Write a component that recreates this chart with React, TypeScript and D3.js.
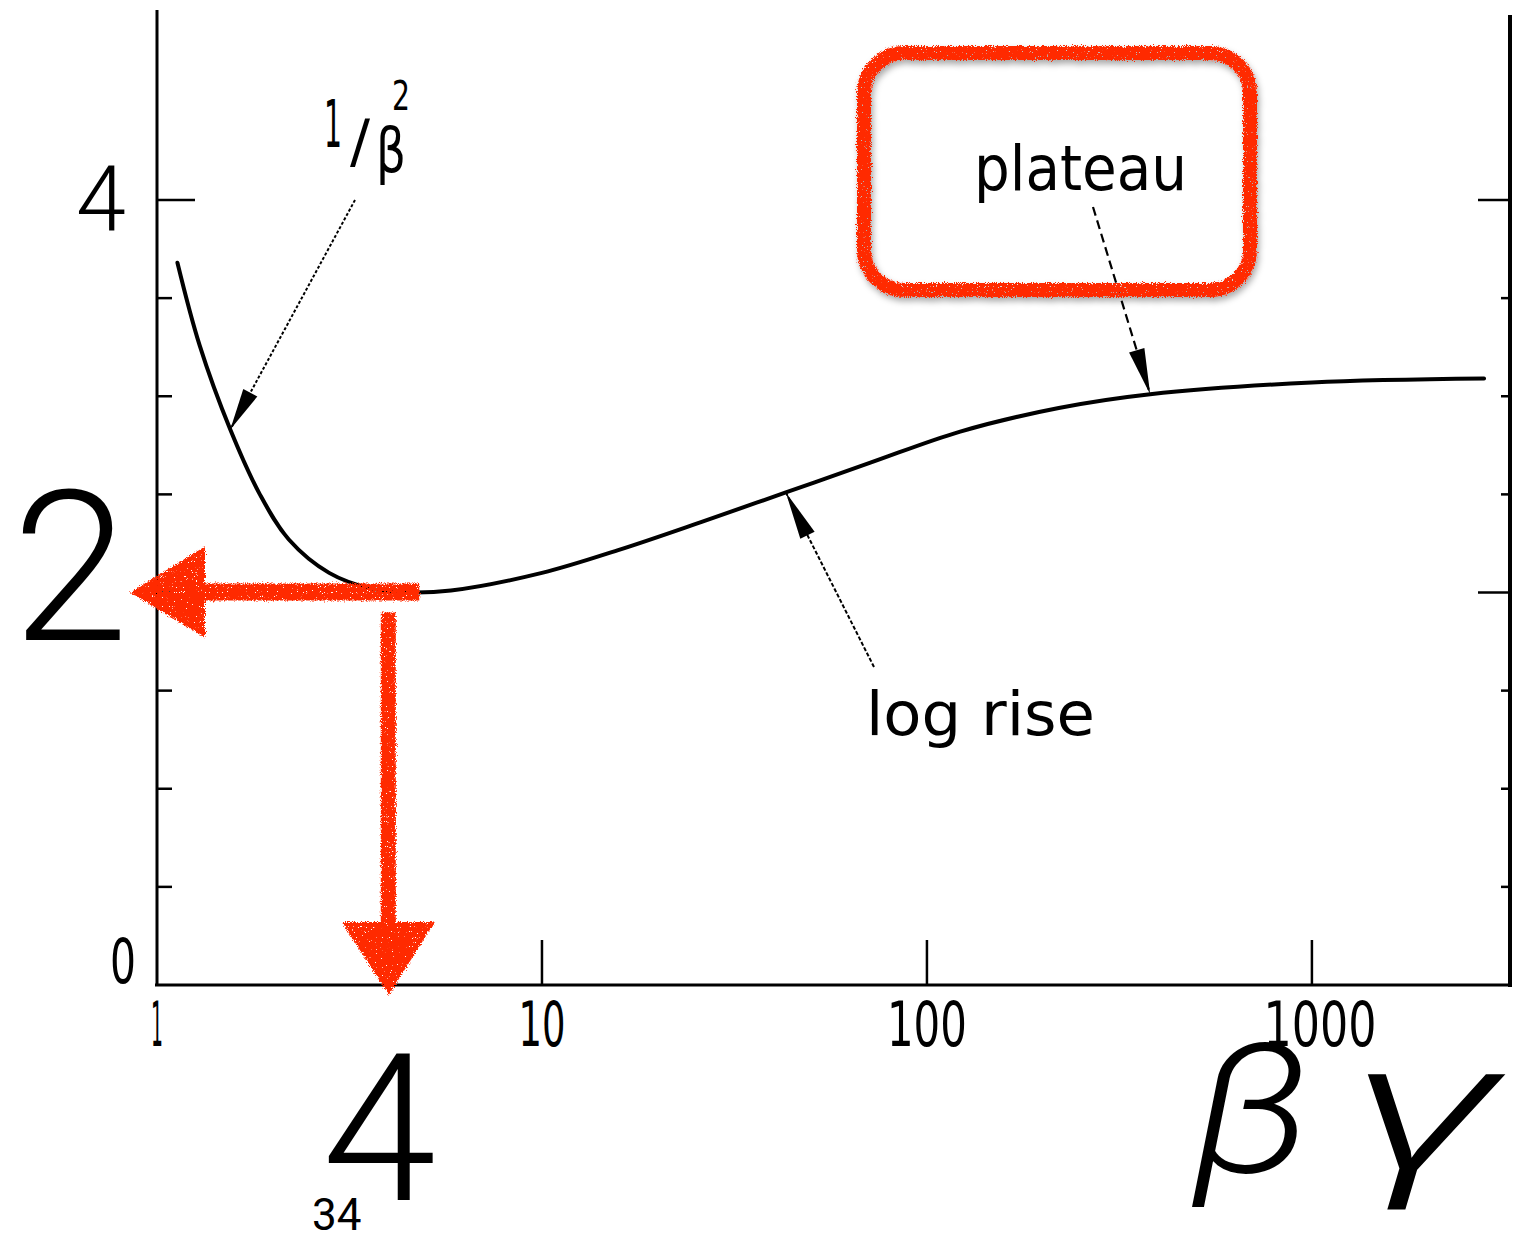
import React from "react";
import * as d3 from "d3";

// Mean energy loss curve versus beta*gamma (log scale)
const betaGamma = [1.13, 1.29, 1.55, 1.85, 2.2, 2.8, 3.6, 4.5, 5.8, 10, 16, 26, 43, 71, 122, 220, 380, 1000, 2800];
const dEdx = [3.68, 3.26, 2.83, 2.5, 2.27, 2.1, 2.02, 2.0, 2.01, 2.1, 2.22, 2.36, 2.51, 2.66, 2.82, 2.94, 3.01, 3.07, 3.09];

const xTicks = [10, 100, 1000];
const xTickLabels = ["1", "10", "100", "1000"];
const xTickLabelValues = [1, 10, 100, 1000];
const yTicks = [0.5, 1, 1.5, 2, 2.5, 3, 3.5, 4];

// Minimum ionisation point highlighted in red
const minBetaGamma = 4;
const minValue = 2;
const minEndBetaGamma = 4.8;

// Annotation anchors on the curve
const invBetaSqAt = 1.55;
const logRiseAt = 43;
const plateauAt = 380;

const W = 1538;
const H = 1236;
const RED = "#ff2a00";
const SCAN_FONT = "'DejaVu Sans', 'Liberation Sans', sans-serif";
const BIG_FONT = "Roboto, 'Liberation Sans', 'Noto Sans', sans-serif";

function head(tail: [number, number], tip: [number, number], len: number, hw: number) {
  const dx = tip[0] - tail[0];
  const dy = tip[1] - tail[1];
  const L = Math.hypot(dx, dy);
  const ux = dx / L, uy = dy / L;
  const bx = tip[0] - ux * len, by = tip[1] - uy * len;
  const px = -uy * hw, py = ux * hw;
  return `${tip[0]},${tip[1]} ${bx + px},${by + py} ${bx - px},${by - py}`;
}

function Note({ x, y, size, len, children }: any) {
  return (
    <text x={x} y={y} fontFamily={SCAN_FONT} fontSize={size} textLength={len} lengthAdjust="spacingAndGlyphs" fill="#000">
      {children}
    </text>
  );
}

export default function App() {
  const x = d3.scaleLog().domain([1, 3270]).range([157, 1510]);
  const y = d3.scaleLinear().domain([0, 4]).range([985, 200]);

  const line = d3
    .line<number>()
    .x((_, i) => x(betaGamma[i]))
    .y((d) => y(d))
    .curve(d3.curveCatmullRom.alpha(0.5));

  const valAt = (bg: number) => {
    const i = d3.bisectLeft(betaGamma, bg);
    const i0 = Math.max(0, i - 1), i1 = Math.min(betaGamma.length - 1, i);
    if (i0 === i1) return dEdx[i0];
    const t = (Math.log(bg) - Math.log(betaGamma[i0])) / (Math.log(betaGamma[i1]) - Math.log(betaGamma[i0]));
    return dEdx[i0] + t * (dEdx[i1] - dEdx[i0]);
  };

  const tipInv: [number, number] = [x(invBetaSqAt), y(valAt(invBetaSqAt))];
  const tailInv: [number, number] = [355, 200];
  const tipLog: [number, number] = [x(logRiseAt), y(valAt(logRiseAt))];
  const tailLog: [number, number] = [874, 667];
  const tipPl: [number, number] = [x(plateauAt), y(valAt(plateauAt))];
  const tailPl: [number, number] = [1093, 207];

  const mx = x(minBetaGamma);
  const my = y(minValue);
  const mEnd = x(minEndBetaGamma);
  const x0 = x(1);
  const yBase = y(0);

  const labelWidths: Record<string, number> = { "1": 12, "10": 47, "100": 80, "1000": 113 };

  return (
    <svg width={W} height={H} style={{ position: "absolute", left: 0, top: 0, background: "#fff" }}>
      <defs>
        <filter id="chalk" x="-10%" y="-10%" width="120%" height="120%">
          <feTurbulence type="fractalNoise" baseFrequency="0.9" numOctaves="2" seed="4" result="noise" />
          <feDisplacementMap in="SourceGraphic" in2="noise" scale="6" xChannelSelector="R" yChannelSelector="G" result="disp" />
          <feTurbulence type="fractalNoise" baseFrequency="1.2" numOctaves="1" seed="11" result="n2" />
          <feColorMatrix in="n2" type="matrix" values="0 0 0 0 0  0 0 0 0 0  0 0 0 0 0  25 0 0 0 -6.8" result="mask" />
          <feComposite in="disp" in2="mask" operator="in" />
        </filter>
        <filter id="shadow" x="-10%" y="-10%" width="120%" height="125%">
          <feDropShadow dx="2" dy="4" stdDeviation="3" floodColor="#000" floodOpacity="0.35" />
        </filter>
      </defs>

      {/* frame */}
      <line x1={x0} x2={x0} y1={10} y2={yBase} stroke="#000" strokeWidth={3} />
      <line x1={x0 - 2} x2={1512} y1={yBase} y2={yBase} stroke="#000" strokeWidth={3} />
      <line x1={1510} x2={1510} y1={15} y2={yBase + 2} stroke="#000" strokeWidth={4} />

      {/* left ticks */}
      {yTicks.map((v) => (
        <line key={"l" + v} x1={x0} x2={x0 + (v === 4 ? 38 : 15)} y1={y(v)} y2={y(v)} stroke="#000" strokeWidth={2.5} />
      ))}
      {/* right ticks */}
      {yTicks.map((v) => (
        <line key={"r" + v} x1={1508} x2={1508 - (v === 4 || v === 2 ? 30 : 7)} y1={y(v)} y2={y(v)} stroke="#000" strokeWidth={2.5} />
      ))}
      {/* bottom ticks */}
      {xTicks.map((v) => (
        <line key={"b" + v} x1={x(v)} x2={x(v)} y1={yBase} y2={yBase - 45} stroke="#000" strokeWidth={2.5} />
      ))}

      {/* tick labels */}
      {xTickLabelValues.map((v, i) => {
        const lab = xTickLabels[i];
        const w = labelWidths[lab];
        return (
          <Note key={"tl" + v} x={x(v) - w / 2 + (v === 1000 ? 8 : 0)} y={1046} size={62} len={w}>
            {lab}
          </Note>
        );
      })}
      <Note x={110} y={983} size={62} len={26}>0</Note>

      {/* curve */}
      <path d={line(dEdx) || ""} fill="none" stroke="#000" strokeWidth={4} strokeLinejoin="round" strokeLinecap="round" />

      {/* 1/beta^2 annotation */}
      <Note x={324} y={147} size={66} len={18}>1</Note>
      <Note x={350} y={162} size={58} len={20}>/</Note>
      <Note x={376} y={172} size={62} len={30}>β</Note>
      <Note x={392} y={110} size={40} len={18}>2</Note>
      <line x1={tailInv[0]} y1={tailInv[1]} x2={tipInv[0]} y2={tipInv[1]} stroke="#000" strokeWidth={2} strokeDasharray="3 2" />
      <polygon points={head(tailInv, tipInv, 42, 8)} fill="#000" />

      {/* log rise annotation */}
      <Note x={866} y={735} size={60} len={229}>log rise</Note>
      <line x1={tailLog[0]} y1={tailLog[1]} x2={tipLog[0]} y2={tipLog[1]} stroke="#000" strokeWidth={2} strokeDasharray="4 2" />
      <polygon points={head(tailLog, tipLog, 48, 8)} fill="#000" />

      {/* plateau annotation */}
      <Note x={974} y={190} size={62} len={213}>plateau</Note>
      <line x1={tailPl[0]} y1={tailPl[1]} x2={tipPl[0]} y2={tipPl[1]} stroke="#000" strokeWidth={2.2} strokeDasharray="9 5" />
      <polygon points={head(tailPl, tipPl, 46, 8)} fill="#000" />

      {/* red highlight box */}
      <g filter="url(#shadow)">
        <rect x={864} y={53} width={386} height={237} rx={40} ry={40} fill="none" stroke={RED} strokeWidth={14} filter="url(#chalk)" />
      </g>

      {/* red arrows marking the minimum */}
      <g filter="url(#chalk)" fill={RED}>
        <rect x={200} y={my - 9} width={mEnd - 200} height={17} />
        <polygon points={`${130},${my} ${205},${my - 46} ${205},${my + 45}`} />
        <rect x={mx - 8} y={my + 20} width={15} height={925 - (my + 20)} />
        <polygon points={`${mx},${yBase + 10} ${mx - 47},${922} ${mx + 46},${922}`} />
      </g>

      {/* large labels */}
      <text x={76} y={230} fontFamily={BIG_FONT} fontWeight={300} fontSize={90} fill="#000">4</text>
      <text x={12} y={640} fontFamily={BIG_FONT} fontWeight={300} fontSize={210} fill="#000">2</text>
      <text x={322} y={1200} fontFamily={BIG_FONT} fontWeight={300} fontSize={206} fill="#000">4</text>
      <text x={312} y={1230} fontFamily={BIG_FONT} fontWeight={400} fontSize={44} fill="#000">34</text>
      <text x={1192} y={1172} fontFamily={BIG_FONT} fontWeight={300} fontStyle="italic" fontSize={180} textLength={120} lengthAdjust="spacingAndGlyphs" fill="#000">β</text>
      <text x={1348} y={1172} fontFamily={BIG_FONT} fontWeight={300} fontStyle="italic" fontSize={185} textLength={150} lengthAdjust="spacingAndGlyphs" fill="#000">γ</text>
    </svg>
  );
}
